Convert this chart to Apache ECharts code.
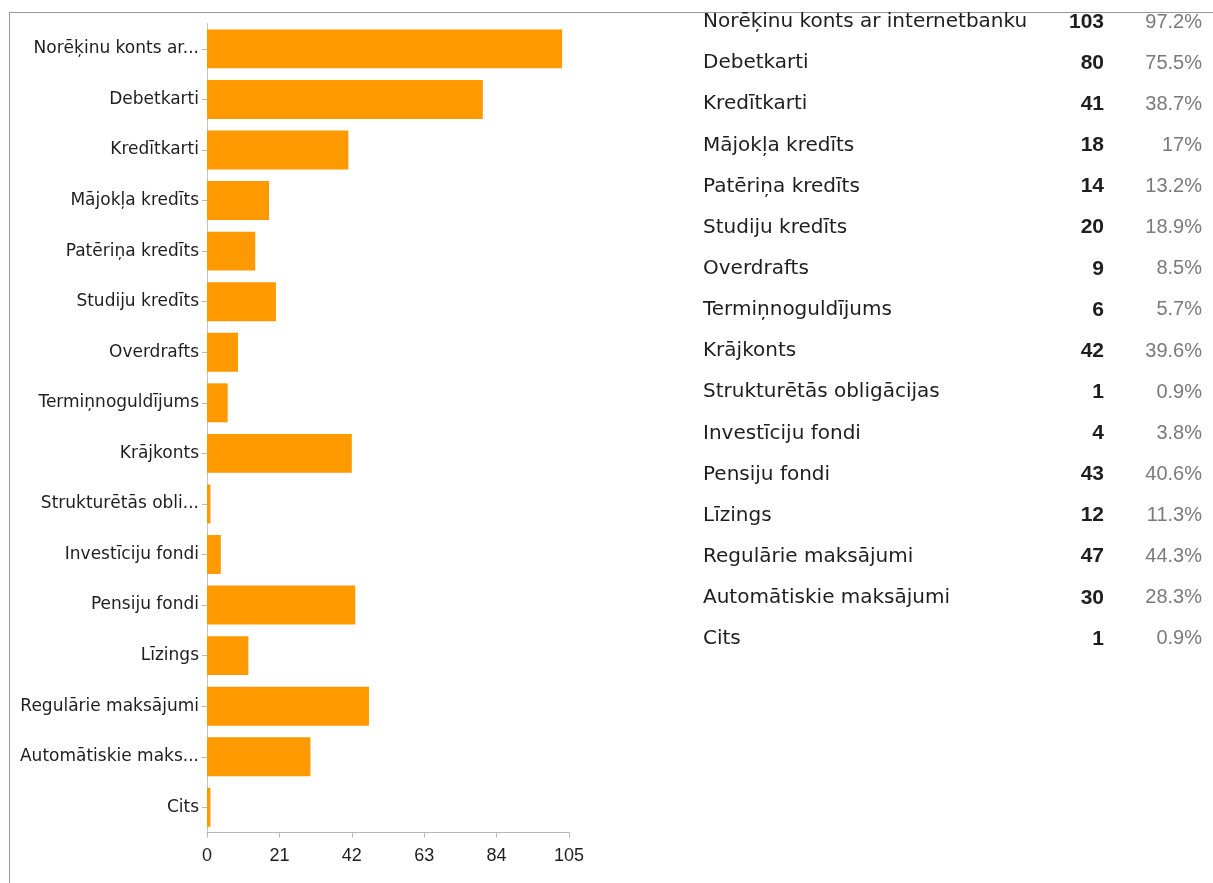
<!DOCTYPE html>
<html>
<head>
<meta charset="utf-8">
<script src="https://cdn.jsdelivr.net/npm/echarts@6/dist/echarts.min.js"></script>
<style>
  html, body { margin: 0; padding: 0; background: #fff; }
  #frame { position: absolute; left: 9px; top: 12px; right: 0; bottom: 0;
           border-left: 1px solid #9a9a9a; border-top: 1px solid #9a9a9a; }
  #chart { position: absolute; left: 0; top: 0; width: 1213px; height: 883px; }
</style>
</head>
<body>
<div id="frame"></div>
<div id="chart"></div>
<script>
// Survey answers: which bank products the respondents use
const categories = [
  'Norēķinu konts ar internetbanku', 'Debetkarti', 'Kredītkarti', 'Mājokļa kredīts',
  'Patēriņa kredīts', 'Studiju kredīts', 'Overdrafts', 'Termiņnoguldījums',
  'Krājkonts', 'Strukturētās obligācijas', 'Investīciju fondi', 'Pensiju fondi',
  'Līzings', 'Regulārie maksājumi', 'Automātiskie maksājumi', 'Cits'
];
const counts = [103, 80, 41, 18, 14, 20, 9, 6, 42, 1, 4, 43, 12, 47, 30, 1];
const percents = ['97.2%', '75.5%', '38.7%', '17%', '13.2%', '18.9%', '8.5%', '5.7%',
                  '39.6%', '0.9%', '3.8%', '40.6%', '11.3%', '44.3%', '28.3%', '0.9%'];
const xTicks = [0, 21, 42, 63, 84, 105];

const SANS = '"Liberation Sans", Arial, sans-serif';
const WIDE = '"DejaVu Sans", sans-serif';

// Long category names are shortened on the axis
function shortLabel(s) {
  return s.length > 19 ? s.slice(0, 17) + '...' : s;
}

// Summary table to the right of the bars
const rowTop = 22, rowStep = 41.13;
const tableEls = [];
categories.forEach((name, i) => {
  const y = rowTop + i * rowStep;
  tableEls.push({
    type: 'text', x: 703, y: y,
    style: { text: name, font: '20px ' + WIDE, fill: '#1e1e1e',
             align: 'left', verticalAlign: 'middle' }
  });
  tableEls.push({
    type: 'text', x: 1104, y: y,
    style: { text: String(counts[i]), font: 'bold 21px ' + SANS, fill: '#1e1e1e',
             align: 'right', verticalAlign: 'middle' }
  });
  tableEls.push({
    type: 'text', x: 1202, y: y,
    style: { text: percents[i], font: '20px ' + SANS, fill: '#7a7a7a',
             align: 'right', verticalAlign: 'middle' }
  });
});

const chart = echarts.init(document.getElementById('chart'), null, { renderer: 'canvas' });
chart.setOption({
  animation: false,
  backgroundColor: 'transparent',
  grid: { left: 207, top: 23.6, width: 362, height: 809, containLabel: false },
  xAxis: {
    type: 'value', min: 0, max: xTicks[xTicks.length - 1], interval: 21,
    axisLine: { show: true, lineStyle: { color: '#b8b8b8', width: 1 } },
    axisTick: { show: true, length: 5, lineStyle: { color: '#b8b8b8' } },
    splitLine: { show: false },
    axisLabel: { color: '#1e1e1e', fontSize: 18, fontFamily: SANS, margin: 14 }
  },
  yAxis: {
    type: 'category', inverse: true, data: categories,
    axisLine: { show: true, lineStyle: { color: '#c4c4c4', width: 1 } },
    axisTick: { show: true, length: 5, alignWithLabel: true, lineStyle: { color: '#b8b8b8' } },
    axisLabel: { color: '#1e1e1e', fontSize: 17, fontFamily: WIDE, margin: 8,
                 interval: 0, formatter: shortLabel }
  },
  series: [{
    type: 'bar', data: counts, barCategoryGap: '23%',
    itemStyle: { color: '#ff9900' }
  }],
  graphic: tableEls
});
</script>
</body>
</html>
